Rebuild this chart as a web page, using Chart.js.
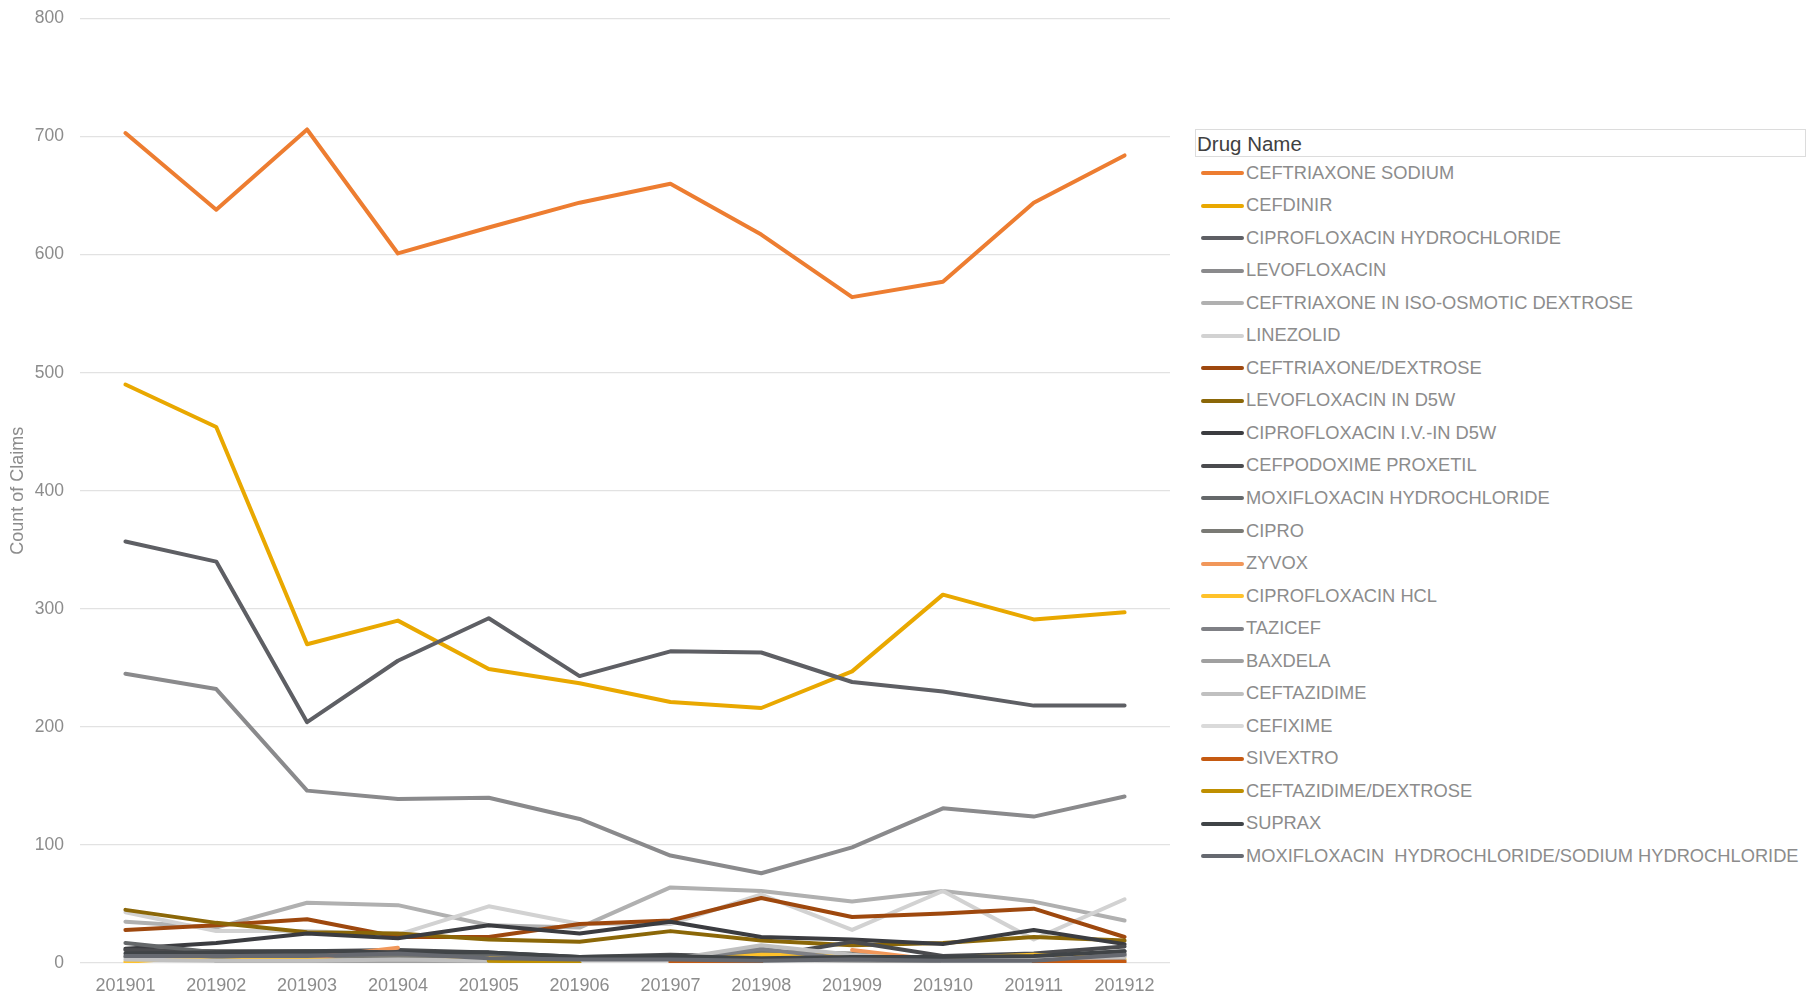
<!DOCTYPE html>
<html>
<head>
<meta charset="utf-8">
<script src="https://cdn.jsdelivr.net/npm/chart.js@4.4.1/dist/chart.umd.min.js"></script>
<style>
  html, body { margin: 0; padding: 0; background: #fff; }
  body { width: 1808px; height: 996px; position: relative; overflow: hidden;
         font-family: "Liberation Sans", Arial, sans-serif; }
  #chartBox { position: absolute; left: 0; top: -8.5px; width: 1185px; height: 1003px; }
  #legend { position: absolute; left: 1195px; top: 128.5px; width: 611px; }
  #legend .title { border: 1px solid #dcdcdc; color: #404040; font-size: 20.5px;
                   line-height: 27px; padding-left: 1px; box-sizing: border-box; height: 28px; }
  #legend .item { position: relative; height: 32.56px; }
  #legend .swatch { position: absolute; left: 6px; width: 43px; height: 4px; border-radius: 2px; }
  #legend .label { position: absolute; left: 51px; color: #8c8c8c; font-size: 18.3px; white-space: pre; }
</style>
</head>
<body>
<div id="chartBox"><canvas id="claims"></canvas></div>
<div id="legend"></div>
<script>
// 月份 (x 軸)
const months = ['201901', '201902', '201903', '201904', '201905', '201906',
                '201907', '201908', '201909', '201910', '201911', '201912'];

// 藥品名稱與線色
const drugNames = [
  'CEFTRIAXONE SODIUM', 'CEFDINIR', 'CIPROFLOXACIN HYDROCHLORIDE', 'LEVOFLOXACIN',
  'CEFTRIAXONE IN ISO-OSMOTIC DEXTROSE', 'LINEZOLID', 'CEFTRIAXONE/DEXTROSE',
  'LEVOFLOXACIN IN D5W', 'CIPROFLOXACIN I.V.-IN D5W', 'CEFPODOXIME PROXETIL',
  'MOXIFLOXACIN HYDROCHLORIDE', 'CIPRO', 'ZYVOX', 'CIPROFLOXACIN HCL', 'TAZICEF',
  'BAXDELA', 'CEFTAZIDIME', 'CEFIXIME', 'SIVEXTRO', 'CEFTAZIDIME/DEXTROSE', 'SUPRAX',
  'MOXIFLOXACIN  HYDROCHLORIDE/SODIUM HYDROCHLORIDE'
];
const drugColors = [
  '#ed7d31', '#e9a800', '#5e5f64', '#8a8a8c', '#b0b0b0', '#d2d2d2', '#9e480e',
  '#8b6708', '#3b3c40', '#4a4b4e', '#65686a', '#7a7a75', '#f1975a', '#ffc22a',
  '#7f8085', '#a0a0a0', '#c0c0c0', '#dadada', '#c55a11', '#bf8f00', '#404447',
  '#666970'
];

// 每月處方件數
const ceftriaxoneSodium   = [703, 638, 706, 601, 623, 644, 660, 617, 564, 577, 644, 684];
const cefdinir            = [490, 454, 270, 290, 249, 237, 221, 216, 247, 312, 291, 297];
const ciproHydrochloride  = [357, 340, 204, 256, 292, 243, 264, 263, 238, 230, 218, 218];
const levofloxacin        = [245, 232, 146, 139, 140, 122, 91, 76, 98, 131, 124, 141];
const ceftriaxoneIso      = [35, 30, 51, 49, 32, 30, 64, 61, 52, 61, 52, 36];
const linezolid           = [43, 27, 27, 24, 48, 33, 33, 58, 28, 61, 20, 54];
const ceftriaxoneDextrose = [28, 32, 37, 22, 22, 33, 36, 55, 39, 42, 46, 22];
const levofloxacinD5w     = [45, 34, 26, 25, 20, 18, 27, 19, 15, 17, 22, 19];
const ciproIvD5w          = [12, 17, 25, 21, 32, 25, 35, 22, 20, 16, 28, 16];
const cefpodoxime         = [11, 10, 10, 11, 9, 5, 7, 5, 18, 6, 8, 14];
const moxifloxacinHcl     = [17, 9, 8, 7, 6, 3, 5, 4, 5, 3, 5, 10];
const cipro               = [5, 5, 5, 6, 4, 2, 3, 9, 8, 3, 4, 8];
const zyvox               = [null, null, 4, 13, null, null, null, null, 11, 2, null, null];
const ciprofloxacinHcl    = [1, 6, 3, 0, 4, 1, 1, 7, 6, 4, 7, 3];
const tazicef             = [null, null, null, null, null, null, 2, 12, 3, 2, 3, 6];
const baxdela             = [null, 1, 1, 1, 1, 2, 2, 3, 2, 1, 1, 2];
const ceftazidime         = [3, 2, 2, 3, 2, 2, 3, 15, 7, 2, 3, 5];
const cefixime            = [null, null, null, null, null, 1, 1, null, null, 1, 1, null];
const sivextro            = [null, null, null, null, null, null, 1, 1, null, null, 1, 1];
const ceftazidimeDextrose = [null, null, null, null, 2, 0, null, null, null, null, null, null];
const suprax              = [8, 9, 10, 9, 9, 5, 6, 4, 5, 5, 6, 10];
const moxifloxacinSodium  = [6, 6, 6, 8, 4, 3, 3, 2, 3, 2, 2, 7];

const seriesValues = [
  ceftriaxoneSodium, cefdinir, ciproHydrochloride, levofloxacin, ceftriaxoneIso,
  linezolid, ceftriaxoneDextrose, levofloxacinD5w, ciproIvD5w, cefpodoxime,
  moxifloxacinHcl, cipro, zyvox, ciprofloxacinHcl, tazicef, baxdela, ceftazidime,
  cefixime, sivextro, ceftazidimeDextrose, suprax, moxifloxacinSodium
];

const yTicks = [0, 100, 200, 300, 400, 500, 600, 700, 800];

const GRID = '#e2e2e2';
const TEXT = '#8c8c8c';
const FONT = '"Liberation Sans", Arial, sans-serif';

// 後面的系列畫在上層
const datasets = seriesValues.map((vals, i) => ({
  label: drugNames[i],
  data: vals,
  borderColor: drugColors[i],
  backgroundColor: drugColors[i],
  borderWidth: 4,
  pointRadius: 0,
  pointHoverRadius: 0,
  tension: 0,
  spanGaps: false,
  borderCapStyle: 'round',
  borderJoinStyle: 'round',
  order: seriesValues.length - i
}));

new Chart(document.getElementById('claims'), {
  type: 'line',
  data: { labels: months, datasets },
  options: {
    responsive: true,
    maintainAspectRatio: false,
    animation: false,
    layout: { padding: { top: 6, right: 15, bottom: 0, left: 0 } },
    plugins: {
      legend: { display: false },
      tooltip: { enabled: false }
    },
    scales: {
      x: {
        offset: true,
        grid: { display: false },
        border: { display: false },
        ticks: {
          color: TEXT,
          font: { family: FONT, size: 18 },
          padding: 4,
          maxRotation: 0
        },
        afterFit: s => { s.height = 32; }
      },
      y: {
        min: 0,
        max: 800,
        afterBuildTicks: s => { s.ticks = yTicks.map(v => ({ value: v })); },
        grid: { color: GRID, lineWidth: 1.3, drawTicks: false },
        border: { display: false },
        ticks: {
          color: TEXT,
          font: { family: FONT, size: 17.5 },
          padding: 16
        },
        title: {
          display: true,
          text: 'Count of Claims',
          color: TEXT,
          font: { family: FONT, size: 18 },
          padding: { top: 7, bottom: 0 }
        },
        afterFit: s => { s.width = 80; }
      }
    }
  }
});

// 圖例
const legendEl = document.getElementById('legend');
legendEl.innerHTML = '<div class="title">Drug Name</div>';
drugNames.forEach((name, i) => {
  const row = document.createElement('div');
  row.className = 'item';
  row.innerHTML =
    `<span class="swatch" style="background:${drugColors[i]};top:14.5px"></span>` +
    `<span class="label" style="top:5px">${name}</span>`;
  legendEl.appendChild(row);
});
</script>
</body>
</html>
